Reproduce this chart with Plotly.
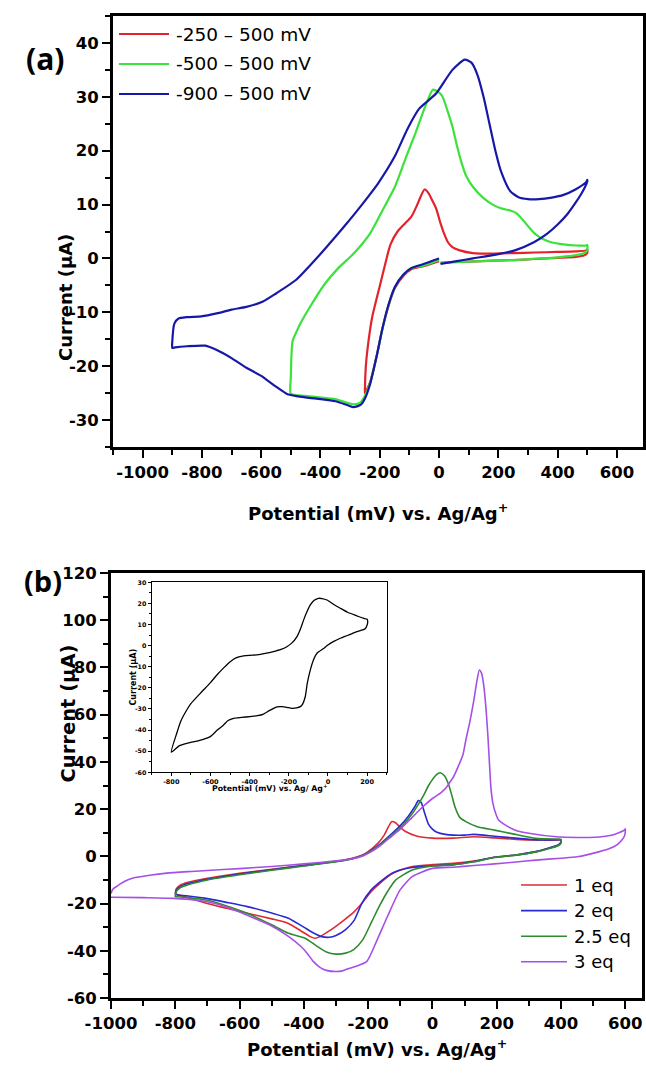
import plotly.graph_objects as go

W, H = 646, 1075

# ---------------- Panel (a) data ----------------
a_names = ["-250 – 500 mV", "-500 – 500 mV", "-900 – 500 mV"]
a_colors = ["#e3232b", "#3be23b", "#1818a8"]
a_xticks = [-1000, -800, -600, -400, -200, 0, 200, 400, 600]
a_yticks = [-30, -20, -10, 0, 10, 20, 30, 40]

a_red_x = [0, -50, -94, -120, -149, -170, -191, -210, -233, -250, -250, -247, -242, -226, -198, -170,
           -163, -140, -115, -94, -75, -62, -49, -38, -25, -10, 5, 17, 30, 45, 70, 114, 184, 250, 323,
           400, 462, 497, 500, 500, 490, 462, 400, 323, 250, 184, 100, 45, 5]
a_red_y = [-0.5, -1.4, -2.0, -3.2, -5.5, -8.7, -13, -18, -23, -25, -24, -20, -17.1, -11, -4.7, 1.5,
           2.7, 5.0, 6.5, 7.7, 9.8, 11.5, 12.8, 12.3, 11.0, 9.3, 6.5, 4.6, 3.0, 2.1, 1.5, 1.0, 0.9, 1.0, 1.1,
           1.2, 1.3, 1.5, 1.7, 1.0, 0.6, 0.3, 0.1, -0.1, -0.3, -0.4, -0.6, -0.7, -0.8]

a_green_x = [0, -50, -94, -120, -149, -170, -191, -210, -233, -250, -265, -285, -310, -350, -400, -450,
             -500, -500, -497, -494, -480, -469, -430, -385, -340, -288, -233, -190, -149, -110, -80,
             -55, -38, -21, -5, 11, 28, 45, 60, 73, 90, 114, 150, 184, 215, 240, 258, 274, 300, 323,
             350, 378, 420, 462, 497, 500, 500, 490, 462, 400, 323, 250, 184, 100, 45, 5]
a_green_y = [-0.3, -1.3, -1.8, -3.0, -5.3, -8.5, -13, -18, -23.2, -25.5, -26.7, -27.1, -26.8, -26.1,
             -25.8, -25.5, -25.1, -22, -17, -15.3, -13.5, -12.2, -8.5, -4.7, -1.8, 0.9, 4.6, 9.0, 13.3,
             19.0, 23.2, 27.0, 29.4, 31.3, 31.0, 30.1, 27.5, 24.5, 21.0, 18.3, 15.5, 13.3, 11.2, 9.9,
             9.2, 8.9, 8.5, 7.7, 6.0, 4.6, 3.6, 3.0, 2.6, 2.4, 2.4, 2.5, 1.5, 1.0, 0.6, 0.2, -0.05,
             -0.3, -0.4, -0.6, -0.7, -0.8]

a_blue_x = [0, -20, -50, -94, -120, -149, -170, -191, -210, -233, -250, -265, -288, -310, -350, -400,
            -450, -511, -550, -600, -650, -700, -750, -789, -850, -890, -900, -900, -893, -880, -851,
            -802, -750, -700, -650, -594, -550, -483, -427, -378, -316, -260, -205, -149, -107, -67,
            -10, 45, 87, 110, 130, 150, 170, 190, 210, 240, 270, 300, 337, 380, 420, 460, 497, 500,
            500, 480, 460, 434, 400, 365, 320, 256, 200, 114, 60, 5]
a_blue_y = [0.0, -0.4, -1.0, -1.8, -3.0, -5.3, -8.5, -13, -18, -23.4, -26, -27.2, -27.6, -27.2, -26.5,
            -26.1, -25.8, -25.2, -23.8, -21.8, -20.3, -18.5, -17, -16.2, -16.3, -16.5, -16.6, -15.5,
            -12.1, -11.2, -10.9, -10.75, -10.2, -9.5, -9.0, -8.0, -6.5, -4.0, -0.8, 2.2, 6.2, 10.0,
            14.0, 19.0, 24.0, 27.8, 30.6, 35.0, 36.9, 36.3, 34.0, 30.0, 25.0, 20.0, 16.0, 12.5, 11.3,
            11.0, 11.0, 11.3, 11.8, 12.8, 14.2, 14.6, 14.3, 12.0, 10.3, 8.3, 6.3, 4.6, 3.0, 1.5, 0.8,
            0.0, -0.5, -1.0]

# ---------------- Panel (b) data ----------------
b_names = ["1 eq", "2 eq", "2.5 eq", "3 eq"]
b_colors = ["#de2b30", "#2a2ad2", "#2e8b2e", "#a64fe6"]
b_xticks = [-1000, -800, -600, -400, -200, 0, 200, 400, 600]
b_yticks = [-60, -40, -20, 0, 20, 40, 60, 80, 100, 120]

b_red_x = [-800, -797, -785, -760, -700, -600, -500, -400, -300, -250, -220, -200, -170, -150, -137,
           -127, -115, -100, -82, -50, 0, 65, 129, 193, 260, 322, 392, 400,
           400, 392, 350, 322, 260, 193, 129, 65, 0, -63, -100, -127, -160, -191, -220, -243, -280,
           -320, -350, -365, -380, -410, -448, -500, -576, -640, -704, -760, -794, -800]
b_red_y = [-15.7, -13.8, -12.2, -11, -9.3, -7.2, -5.5, -3.8, -2.1, -0.8, 0.5, 2.0, 5.5, 9.0, 12.5,
           14.7, 14.2, 12.3, 10.4, 8.6, 7.7, 7.7, 8.3, 7.8, 7.2, 6.9, 6.9, 7.0,
           6.2, 4.8, 3.0, 2.0, 0.6, -0.4, -2.0, -3.0, -3.5, -4.3, -5.8, -7.5, -11, -15, -20, -23.4,
           -27.5, -31.5, -34, -34.7, -34, -31.5, -28.4, -26.5, -24.1, -22, -19.9, -17.5, -16.2, -15.8]

b_blue_x = [-800, -797, -785, -760, -700, -600, -500, -400, -300, -250, -215, -190, -160, -127, -100,
            -75, -55, -44, -35, -24, -12, 0, 14, 40, 65, 100, 129, 160, 193, 250, 300, 350, 400,
            400, 392, 350, 322, 260, 193, 129, 65, 0, -63, -100, -127, -160, -191, -220, -243, -270,
            -300, -320, -345, -370, -400, -448, -500, -576, -640, -704, -760, -794, -800]
b_blue_y = [-16, -14.3, -12.8, -11.5, -9.7, -7.5, -5.7, -3.9, -2.2, -1.0, 0.5, 2.5, 5.5, 9.5, 13,
            17, 21, 23.6, 22.8, 18.2, 13.5, 11.5, 10.2, 9.3, 9.0, 9.0, 9.3, 9.0, 8.5, 7.8, 7.2, 6.9,
            6.9, 6.0, 4.8, 3.0, 2.0, 0.6, -0.4, -2.2, -3.5, -4.0, -4.7, -5.8, -7.2, -10.5, -14.3, -20,
            -27, -31, -33.5, -34.3, -34, -32.5, -30, -26.2, -24, -21.3, -19.5, -17.8, -16.8, -16.4,
            -16.2]

b_green_x = [-800, -797, -785, -760, -700, -600, -500, -400, -300, -250, -215, -190, -160, -127, -100,
             -63, -44, -25, -12, 0, 12, 24, 38, 50, 60, 70, 85, 104, 140, 193, 250, 322, 392, 400,
             400, 392, 350, 322, 260, 193, 129, 65, 0, -63, -114, -140, -166, -190, -217, -245, -270,
             -300, -330, -360, -396, -448, -500, -576, -640, -704, -760, -794, -800]
b_green_y = [-17, -15, -13.3, -12, -10, -7.8, -5.9, -4.1, -2.3, -1.1, 0.4, 2.3, 5.2, 9.0, 12, 18,
             22, 26.5, 30, 32.5, 34.5, 35.4, 34, 30.5, 26, 21, 16.5, 14.7, 12.5, 11.1, 9.5, 7.6, 7.3,
             7.2, 5.6, 4.6, 2.8, 1.9, 0.5, -0.5, -2.3, -3.6, -4.1, -5.8, -10, -15, -21.3, -28, -35.4,
             -39.5, -41, -41.4, -40.5, -38, -34.7, -32.6, -29, -24.1, -21, -18.5, -17.5, -17.1, -17]

b_purple_x = [-1000, -995, -982, -960, -931, -880, -827, -750, -676, -600, -500, -400, -300, -250,
              -215, -190, -160, -127, -100, -63, -30, 0, 27, 45, 59, 65, 80, 95, 104, 115, 129, 138,
              146, 153, 160, 167, 173, 178, 182, 188, 196, 206, 230, 258, 300, 386, 450, 489, 520,
              553, 580, 598, 600,
              600, 598, 590, 575, 553, 520, 450, 400, 322, 260, 193, 129, 65, 0, -63, -101, -140,
              -172, -204, -230, -260, -280, -300, -330, -350, -371, -390, -409, -448, -500, -576,
              -620, -676, -720, -806, -900, -1000]
b_purple_y = [-15.7, -14, -12.7, -10.8, -9.2, -8, -7.1, -6.4, -5.8, -5.2, -4.3, -3.2, -1.9, -1.0,
              0.3, 2.0, 4.8, 8.5, 11.5, 16.5, 21, 24.5, 27, 29.5, 32.3, 33.5, 38, 43, 49.3, 56, 66.2,
              74, 78.9, 77.5, 72, 62, 50, 38, 29, 22.5, 18.5, 15.4, 13, 11.1, 9.8, 8.3, 8.0, 8.0, 8.2,
              8.8, 10, 11.2, 11.7,
              10.5, 8.8, 7, 5, 3.4, 2, -0.2, -0.8, -1.6, -2.4, -3.2, -3.9, -4.6, -5.1, -8.6, -14.3,
              -25.5, -35.4, -44.5, -46.2, -47.5, -48.5, -48.8, -48.3, -47, -44.5, -41, -38.2, -33.9,
              -29.5, -25, -22.5, -20, -18.8, -17.8, -17.5, -17.3]

# ---------------- Inset data ----------------
inset_xticks = [-800, -600, -400, -200, 0, 200]
inset_yticks = [-60, -50, -40, -30, -20, -10, 0, 10, 20, 30]
inset_x = [-800, -772, -750, -721, -700, -652, -600, -567, -530, -499, -470, -431, -400, -363, -320,
           -278, -240, -210, -185, -158, -140, -124, -105, -90, -70, -48, -30, -5, 30, 63, 100, 148,
           180, 200, 203, 200, 190, 148, 100, 63, 30, 0, -25, -56, -75, -90, -105, -116, -130, -141,
           -160, -184, -210, -235, -260, -278, -300, -329, -360, -397, -440, -482, -510, -533, -565,
           -601, -650, -721, -760, -800]
inset_y = [-50.5, -41.5, -35.5, -30.5, -27.5, -22.6, -17.5, -13.9, -10.3, -7.6, -5.8, -4.9, -4.6,
           -4.4, -3.7, -2.8, -1.8, -0.5, 1.2, 4.3, 8.0, 12.2, 16.5, 19.3, 21.5, 22.4, 22.3, 21.6,
           19.5, 17.7, 15.8, 14.1, 13.0, 12.5, 11.5, 9.8, 8.0, 6.6, 4.8, 3.5, 2.0, 0.3, -1.5, -3.6,
           -7.0, -11.5, -17.5, -24.2, -27.8, -28.9, -29.5, -29.7, -29.2, -28.9, -29.0, -29.7, -30.8,
           -32.4, -33.2, -33.6, -34.0, -34.4, -35.5, -37.6, -40.0, -43.1, -44.8, -46.3, -47.5, -50.5]

BOLD = dict(family="DejaVu Sans", weight="bold", color="black")

fig = go.Figure()

a_series = [(a_red_x, a_red_y), (a_green_x, a_green_y), (a_blue_x, a_blue_y)]
for (xs, ys), name, col in zip(a_series, a_names, a_colors):
    fig.add_trace(go.Scatter(x=xs, y=ys, mode="lines", name=name, xaxis="x", yaxis="y",
                             line=dict(color=col, width=2.2, shape="spline", smoothing=0.6)))

b_series = [(b_red_x, b_red_y), (b_blue_x, b_blue_y), (b_green_x, b_green_y), (b_purple_x, b_purple_y)]
for (xs, ys), name, col in zip(b_series, b_names, b_colors):
    fig.add_trace(go.Scatter(x=xs, y=ys, mode="lines", name=name, xaxis="x2", yaxis="y2",
                             line=dict(color=col, width=1.6, shape="spline", smoothing=0.6)))

fig.add_trace(go.Scatter(x=inset_x, y=inset_y, mode="lines", xaxis="x3", yaxis="y3",
                         line=dict(color="black", width=1.3, shape="spline", smoothing=0.6)))


def axis(domain, anchor, rng, ticks, mdtick, size, lw, tl, mtl, tw):
    return dict(domain=domain, anchor=anchor, range=rng, tickmode="array", tickvals=ticks,
                ticktext=[str(t) for t in ticks], tickangle=0, automargin=False,
                ticks="outside", ticklen=tl, tickwidth=tw, tickcolor="black",
                minor=dict(dtick=mdtick, tick0=ticks[0], ticks="outside", ticklen=mtl, tickwidth=tw,
                           tickcolor="black", showgrid=False),
                showline=True, linewidth=lw, linecolor="black", mirror=True,
                showgrid=False, zeroline=False, tickfont=dict(size=size, **BOLD))


fig.update_layout(
    width=W, height=H, margin=dict(l=0, r=0, t=0, b=0, autoexpand=False),
    paper_bgcolor="white", plot_bgcolor="white", showlegend=False,
    xaxis=axis([113 / W, 643 / W], "y", [-1100, 688], a_xticks, 100, 16.5, 3, 8, 5, 2.2),
    yaxis=axis([1 - 447 / H, 1 - 16 / H], "x", [-35, 45], a_yticks, 5, 16.5, 3, 8, 5, 2.2),
    xaxis2=axis([111 / W, 642 / W], "y2", [-1000, 652], b_xticks, 100, 16.5, 3, 8, 5, 2.2),
    yaxis2=axis([1 - 998 / H, 1 - 573 / H], "x2", [-60, 120], b_yticks, 10, 16.5, 3, 8, 5, 2.2),
    xaxis3=axis([151.7 / W, 386.7 / W], "y3", [-900, 300], inset_xticks, 100, 6.5, 1.2, 3, 2, 1),
    yaxis3=axis([1 - 772.3 / H, 1 - 582.3 / H], "x3", [-60, 30], inset_yticks, 5, 6.3, 1.2, 3, 2, 1),
)

ann = []
# panel labels
ann.append(dict(text="(a)", x=24 / W, y=1 - 36 / H, xref="paper", yref="paper", showarrow=False,
                font=dict(family="Open Sans", size=30, weight="bold", color="black")))
ann.append(dict(text="(b)", x=22 / W, y=1 - 580 / H, xref="paper", yref="paper", showarrow=False,
                font=dict(family="Open Sans", size=29, weight="bold", color="black")))
# axis titles
xtitle = "Potential (mV) vs. Ag/Ag<sup>+</sup>"
ann.append(dict(text=xtitle, x=378 / W, y=1 - 512 / H, xref="paper", yref="paper", showarrow=False,
                font=dict(size=18, **BOLD)))
ann.append(dict(text=xtitle, x=376.5 / W, y=1 - 1062 / H, xref="paper", yref="paper", showarrow=False,
                font=dict(size=18, **BOLD)))
ann.append(dict(text="Current (μA)", x=53 / W, y=1 - 232 / H, xref="paper", yref="paper",
                showarrow=False, textangle=-90, font=dict(size=18, **BOLD)))
ann.append(dict(text="Current (μA)", x=54 / W, y=1 - 785 / H, xref="paper", yref="paper",
                showarrow=False, textangle=-90, font=dict(size=19.5, **BOLD)))
# inset titles
ann.append(dict(text="Potential (mV) vs. Ag/ Ag<sup>+</sup>", x=269 / W, y=1 - 795 / H, xref="paper",
                yref="paper", showarrow=False, font=dict(size=7.8, **BOLD)))
ann.append(dict(text="Current (μA)", x=126 / W, y=1 - 677 / H, xref="paper", yref="paper",
                showarrow=False, textangle=-90, font=dict(size=8, **BOLD)))

shapes = []
# legend (a)
for i, (name, col) in enumerate(zip(a_names, a_colors)):
    yy = 1 - (34 + 30 * i) / H
    shapes.append(dict(type="line", xref="paper", yref="paper", x0=119 / W, x1=169 / W, y0=yy, y1=yy,
                       line=dict(color=col, width=2.2)))
    ann.append(dict(text=name, x=174 / W, y=yy, xref="paper", yref="paper", xanchor="left",
                    yanchor="middle", showarrow=False,
                    font=dict(family="DejaVu Sans", size=18.5, color="black")))
# legend (b)
for i, (name, col) in enumerate(zip(b_names, b_colors)):
    yy = 1 - (885 + 25.6 * i) / H
    shapes.append(dict(type="line", xref="paper", yref="paper", x0=521 / W, x1=567 / W, y0=yy, y1=yy,
                       line=dict(color=col, width=1.6)))
    ann.append(dict(text=name, x=572 / W, y=yy, xref="paper", yref="paper", xanchor="left",
                    yanchor="middle", showarrow=False,
                    font=dict(family="DejaVu Sans", size=18, color="black")))

fig.update_layout(annotations=ann, shapes=shapes)
fig.write_html("out.html", config={"displayModeBar": False},
               post_script="document.body.style.margin='0';document.body.style.overflow='hidden';")
